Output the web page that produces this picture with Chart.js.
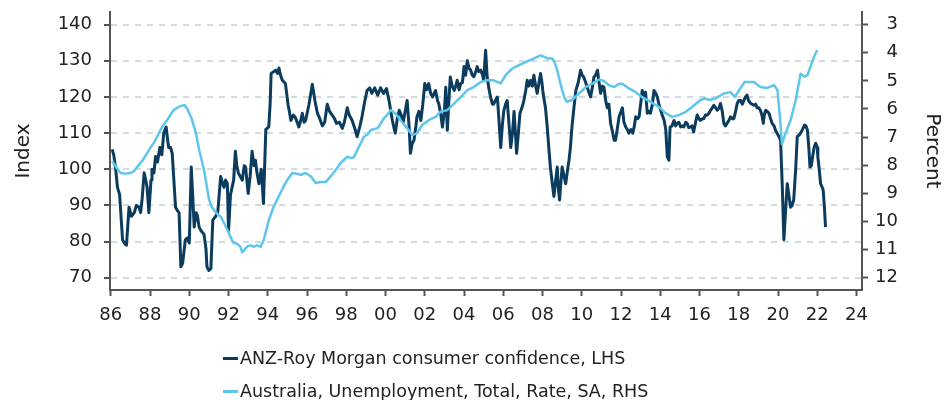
<!DOCTYPE html>
<html>
<head>
<meta charset="utf-8">
<script src="https://cdn.jsdelivr.net/npm/chart.js@4/dist/chart.umd.min.js"></script>
<style>
html,body{margin:0;padding:0;background:#fff;}
#wrap{position:relative;width:944px;height:400px;overflow:hidden;background:#fff;}
#c{position:absolute;left:0;top:0;}
.lg{position:absolute;left:240px;font-family:'DejaVu Sans';font-size:17.5px;color:#222;line-height:20px;white-space:nowrap;}
.mk{position:absolute;left:223px;width:15px;height:3px;}
</style>
</head>
<body>
<div id="wrap">
<canvas id="c" width="944" height="400"></canvas>
<div class="mk" style="top:357px;background:#0b3c5d;"></div>
<div class="lg" id="lg1" style="top:348px;"></div>
<div class="mk" style="top:390px;background:#5ec6ea;"></div>
<div class="lg" id="lg2" style="top:381px;"></div>
</div>
<script>
// ---- Series labels ----
const seriesNames = ['ANZ-Roy Morgan consumer confidence, LHS', 'Australia, Unemployment, Total, Rate, SA, RHS'];
const axisTitles = ['Index', 'Percent'];

// ---- X axis ticks ----
const xTickYears = [1986,1988,1990,1992,1994,1996,1998,2000,2002,2004,2006,2008,2010,2012,2014,2016,2018,2020,2022,2024];
const xTickLabels = ['86','88','90','92','94','96','98','00','02','04','06','08','10','12','14','16','18','20','22','24'];
const leftTicks = [70,80,90,100,110,120,130,140];
const rightTicks = [3,4,5,6,7,8,9,10,11,12];

// ---- ANZ-Roy Morgan consumer confidence (index, LHS) ----
const confDates = [
1986.07,1986.15,1986.25,1986.34,1986.45,1986.6,1986.7,1986.8,1986.93,
1987.05,1987.2,1987.3,1987.44,1987.52,1987.6,1987.7,1987.78,1987.85,1987.94,
1988.05,1988.1,1988.2,1988.28,1988.38,1988.5,1988.6,1988.7,1988.82,1988.9,1988.95,
1989.05,1989.13,1989.3,1989.4,1989.48,1989.57,1989.66,1989.8,1989.9,
1990.0,1990.1,1990.18,1990.25,1990.35,1990.42,1990.5,1990.6,1990.75,1990.85,1990.9,
1991.0,1991.1,1991.2,1991.35,1991.45,1991.6,1991.7,1991.77,1991.85,1991.94,
1992.0,1992.1,1992.26,1992.35,1992.42,1992.5,1992.6,1992.7,1992.8,1992.87,
1993.0,1993.1,1993.2,1993.3,1993.37,1993.45,1993.55,1993.67,1993.78,1993.9,
1994.05,1994.12,1994.17,1994.3,1994.4,1994.5,1994.57,1994.65,1994.74,1994.9,
1995.03,1995.1,1995.18,1995.3,1995.4,1995.5,1995.58,1995.68,1995.76,1995.85,1995.93,
1996.1,1996.27,1996.4,1996.53,1996.65,1996.78,1996.9,
1997.03,1997.15,1997.28,1997.4,1997.5,1997.65,1997.8,1997.9,
1998.05,1998.15,1998.3,1998.45,1998.55,1998.7,1998.8,1998.95,
1999.06,1999.2,1999.3,1999.45,1999.6,1999.75,1999.9,
2000.05,2000.18,2000.3,2000.35,2000.45,2000.5,2000.6,2000.7,2000.8,2000.9,
2001.0,2001.1,2001.2,2001.27,2001.35,2001.45,2001.55,2001.6,2001.7,2001.8,2001.9,
2002.0,2002.1,2002.2,2002.3,2002.4,2002.55,2002.65,2002.72,2002.82,2002.9,
2003.0,2003.07,2003.15,2003.22,2003.3,2003.4,2003.5,2003.58,2003.65,2003.75,2003.83,2003.92,
2004.0,2004.08,2004.17,2004.25,2004.34,2004.42,2004.5,2004.6,2004.67,2004.75,2004.85,2004.95,
2005.0,2005.1,2005.18,2005.28,2005.35,2005.45,2005.5,2005.6,2005.7,2005.8,2005.87,2005.95,
2006.03,2006.12,2006.2,2006.3,2006.38,2006.47,2006.55,2006.62,2006.68,2006.77,2006.85,2006.95,
2007.05,2007.15,2007.22,2007.3,2007.4,2007.48,2007.56,2007.65,2007.73,2007.82,2007.9,2007.97,
2008.03,2008.15,2008.24,2008.32,2008.4,2008.5,2008.58,2008.65,2008.75,2008.8,2008.87,2008.93,
2009.0,2009.1,2009.18,2009.28,2009.35,2009.42,2009.5,2009.6,2009.7,2009.82,2009.94,
2010.02,2010.1,2010.2,2010.28,2010.38,2010.45,2010.55,2010.62,2010.7,2010.8,2010.88,2010.96,
2011.05,2011.13,2011.22,2011.3,2011.38,2011.47,2011.55,2011.65,2011.72,2011.8,2011.9,
2012.0,2012.07,2012.15,2012.24,2012.32,2012.4,2012.5,2012.6,2012.68,2012.75,2012.85,2012.92,
2013.0,2013.08,2013.17,2013.25,2013.34,2013.42,2013.5,2013.6,2013.68,2013.77,2013.85,2013.93,
2014.02,2014.1,2014.2,2014.28,2014.36,2014.44,2014.5,2014.6,2014.7,2014.78,2014.87,2014.95,
2015.04,2015.12,2015.2,2015.3,2015.37,2015.45,2015.55,2015.62,2015.7,2015.8,2015.88,2015.97,
2016.05,2016.14,2016.22,2016.3,2016.4,2016.48,2016.56,2016.65,2016.73,2016.82,2016.9,
2017.0,2017.07,2017.16,2017.24,2017.32,2017.4,2017.5,2017.58,2017.67,2017.75,2017.84,2017.92,
2018.0,2018.1,2018.18,2018.26,2018.34,2018.42,2018.5,2018.6,2018.68,2018.77,2018.86,2018.94,
2019.02,2019.1,2019.18,2019.25,2019.3,2019.37,2019.45,2019.54,2019.62,2019.7,2019.8,2019.87,2019.95,
2020.05,2020.13,2020.22,2020.3,2020.38,2020.47,2020.55,2020.64,2020.72,2020.8,2020.9,2020.98,
2021.08,2021.15,2021.25,2021.35,2021.42,2021.5,2021.57,2021.63,2021.7,2021.76,2021.84,2021.92,
2022.0,2022.03,2022.1,2022.17,2022.25,2022.3,2022.36,2022.42
];
const confValues = [
105.5,104,100,95,93,80.5,79.5,79,89.5,
87,88,90,89.5,88,92,99,97,95,88,
97,100,99,103.5,102,106,104,110,111.7,108,106,
106,104.4,89.5,88.5,88,73,74,80.5,81,
79.6,100.6,92,84,88,87,84,83,82,78,73,
72,72.5,86,87,88,98,96,95,97,96,
83,93,97,105,101,99,98,97,101,100.6,
93.3,98,105,101,102.5,99,96,100,90.5,111,
111.7,118,126.5,127,127.4,126.5,128,126,124.6,123.7,
118,116,113.5,115,114.4,113,111.7,113.5,115.5,113,113.5,
118,123.5,119,115.5,114,112,113,
118,116,115,114,112.7,113,111.3,113,
117,115,113.5,111,109,112,114.5,119,
121.8,122.5,121,122.5,120.5,122.5,121,
122.3,119,115,113.5,111,110,114,116.3,115,113,
116,119,112,104.4,107,108,112,114.5,116,113.5,118,
123.7,122,123.7,121,120,121.8,119,118,115,111.7,
116,122.7,110.8,118,125.5,123,121.8,123,124.6,122,123.7,124,
128.4,126,130,128,127.4,126,125.6,127,128.4,127,127.4,126,
124.6,132.9,125.5,122,120,118,118,119,120,112,106,112,
116.3,118,119,112,106,110,116,110,104.4,110,115.5,117,
119,122,124.6,123,124.6,123,126,123,121,124,126.5,124,
121,117,111.7,106,100.6,96,92.5,96,100.6,95,91.5,96,
100.6,98,96,100,102.5,106,111.7,117,121.8,124,127.4,
126,125.5,124,122.7,121,120,123,125.5,126,127.4,124,121,
123,122.7,119,117,118,112.7,110.8,108,108,110.8,114.5,
116,117,113,111.7,111,110,111,110,112,114.5,114,114.5,
118,121.8,120,121.3,115.5,116,115.5,118,121.8,121,120,118,
116.3,115,113.5,111,103.4,102.5,111.7,112,113.5,112,112.7,113,
111.7,112,111.7,113,112.7,111.5,111.7,112,110.3,113,115,114,
113.5,114,114,115,115,115.5,116.3,117,117.7,117,116.3,
117,118.2,116,112.7,112,112.7,113.5,114.5,114,114,116,118.2,
119,119,118,119,120,120.5,119,118.2,118,117.7,118,117,
117,116.3,115,112.7,115,116.3,116,115.5,114,112.7,112,110.8,110,
109,108,95,80.5,88,96,93,89.5,90,91.5,100,109,
109.5,110,111,112.2,112,110.8,106,100.6,101,103.4,106,107.2,
106,103.4,100,96,95,94.3,90,84
];

// ---- Australia unemployment rate (%, RHS, inverted) ----
const unempDates = [
1986.07,1986.3,1986.5,1986.75,
1987.0,1987.2,1987.36,1987.6,1987.85,
1988.0,1988.2,1988.35,1988.53,1988.7,1988.87,
1989.05,1989.2,1989.4,1989.55,1989.75,1989.9,
1990.0,1990.12,1990.25,1990.38,1990.5,1990.62,1990.75,1990.88,
1991.0,1991.12,1991.26,1991.45,1991.6,1991.77,1991.94,
1992.1,1992.26,1992.45,1992.6,1992.7,1992.82,1992.95,
1993.1,1993.3,1993.45,1993.64,1993.8,
1994.06,1994.3,1994.5,1994.65,1994.85,
1995.0,1995.25,1995.45,1995.68,1995.93,
1996.2,1996.44,1996.7,1996.95,
1997.2,1997.46,1997.7,
1998.05,1998.25,1998.4,1998.65,1998.9,
1999.1,1999.25,1999.6,1999.92,
2000.1,2000.26,2000.5,2000.77,
2001.1,2001.36,2001.6,2001.87,
2002.2,2002.55,2002.8,
2003.15,2003.5,2003.83,
2004.17,2004.5,2004.85,
2005.18,2005.5,2005.87,
2006.12,2006.46,2006.8,
2007.14,2007.56,2007.9,
2008.1,2008.24,2008.5,2008.62,2008.75,2008.88,
2009.0,2009.12,2009.25,2009.5,2009.86,
2010.2,2010.54,2010.88,
2011.13,2011.38,2011.65,2011.9,
2012.07,2012.4,2012.75,
2013.08,2013.5,2013.93,
2014.27,2014.6,2014.95,
2015.3,2015.62,
2016.05,2016.28,2016.47,2016.8,
2017.24,2017.58,2017.8,
2018.05,2018.3,2018.77,
2019.1,2019.45,2019.8,2019.97,
2020.1,2020.2,2020.38,2020.64,2020.9,
2021.15,2021.35,2021.5,2021.65,2021.83,
2022.0
];
const unempValues = [
7.85,8.1,8.28,8.3,
8.28,8.2,8.05,7.85,7.57,
7.4,7.2,7.0,6.75,6.55,6.4,
6.2,6.04,5.95,5.9,5.86,6.0,
6.15,6.35,6.64,7.0,7.45,7.8,8.17,8.7,
9.2,9.45,9.6,9.75,9.83,10.05,10.3,
10.55,10.77,10.8,10.9,11.1,11.0,10.9,
10.85,10.9,10.85,10.9,10.65,
9.94,9.47,9.2,8.98,8.7,
8.52,8.28,8.3,8.34,8.28,
8.4,8.63,8.6,8.6,
8.4,8.17,7.93,
7.7,7.75,7.7,7.34,6.99,
6.9,6.75,6.68,6.33,
6.2,6.04,6.15,6.4,
6.68,6.93,6.87,6.57,
6.4,6.28,6.1,
6.04,5.8,5.58,
5.33,5.22,5.04,
4.98,4.98,5.09,
4.8,4.56,4.44,
4.33,4.2,4.09,
4.15,4.2,4.2,4.35,4.62,5.0,
5.33,5.6,5.75,5.68,5.45,
5.22,5.1,4.95,
5.0,5.15,5.22,5.1,
5.1,5.27,5.4,
5.58,5.75,5.93,
6.15,6.28,6.22,
6.1,5.93,
5.68,5.62,5.68,5.63,
5.45,5.4,5.57,
5.3,5.04,5.04,
5.22,5.25,5.15,5.33,
6.3,7.25,6.87,6.4,5.7,
4.75,4.85,4.8,4.5,4.15,
3.9
];

const DARK = '#0b3c5d';
const LIGHT = '#5ec6ea';
const AXIS = '#555555';
const GRID = '#d3dadf';
const TXT = '#222222';
const FONT = 'DejaVu Sans';

document.getElementById('lg1').textContent = seriesNames[0];
document.getElementById('lg2').textContent = seriesNames[1];

const confPoints = confDates.map((d, i) => ({x: d, y: confValues[i]}));
const unempPoints = unempDates.map((d, i) => ({x: d, y: unempValues[i]}));

new Chart(document.getElementById('c').getContext('2d'), {
  type: 'line',
  data: {
    datasets: [
      {label: seriesNames[0], data: confPoints, yAxisID: 'yL', borderColor: DARK, backgroundColor: DARK,
       borderWidth: 3, pointRadius: 0, tension: 0, fill: false, order: 1, borderJoinStyle: 'round'},
      {label: seriesNames[1], data: unempPoints, yAxisID: 'yR', borderColor: LIGHT, backgroundColor: LIGHT,
       borderWidth: 2.5, pointRadius: 0, tension: 0, fill: false, order: 0, borderJoinStyle: 'round'}
    ]
  },
  options: {
    responsive: false,
    animation: false,
    layout: {padding: {left: 0, right: 46, top: 12, bottom: 0}},
    plugins: {legend: {display: false}, tooltip: {enabled: false}},
    scales: {
      x: {
        type: 'linear', position: 'bottom', min: 1985.96, max: 2024.28,
        afterBuildTicks: s => { s.ticks = xTickYears.map(v => ({value: v})); },
        afterFit: s => { s.height = 110; },
        ticks: {
          autoSkip: false, maxRotation: 0, padding: 9, color: TXT,
          font: {family: FONT, size: 18},
          callback: v => { const k = xTickYears.indexOf(v); return k >= 0 ? xTickLabels[k] : ''; }
        },
        grid: {drawOnChartArea: false, drawTicks: true, tickLength: 6, tickColor: AXIS, tickWidth: 2},
        border: {display: true, color: AXIS, width: 2}
      },
      yL: {
        type: 'linear', position: 'left', min: 66.6, max: 143.5,
        afterBuildTicks: s => { s.ticks = leftTicks.map(v => ({value: v})); },
        afterFit: s => { s.width = 110; s.paddingTop = 0; s.paddingBottom = 0; },
        ticks: {padding: 12, color: TXT, font: {family: FONT, size: 18}},
        grid: {drawOnChartArea: true, color: GRID, lineWidth: 2, drawTicks: true, tickLength: 6, tickColor: AXIS, tickWidth: 2},
        border: {display: true, color: AXIS, width: 2, dash: [6, 6]},
        title: {display: true, text: axisTitles[0], color: TXT, font: {family: FONT, size: 20}, padding: {top: 11.5, bottom: 0}}
      },
      yR: {
        type: 'linear', position: 'right', reverse: true, min: 2.55, max: 12.44,
        afterBuildTicks: s => { s.ticks = rightTicks.map(v => ({value: v})); },
        afterFit: s => { s.width = 36; s.paddingTop = 0; s.paddingBottom = 0; },
        ticks: {padding: 7, crossAlign: 'far', color: TXT, font: {family: FONT, size: 18}},
        grid: {drawOnChartArea: false, drawTicks: true, tickLength: 6, tickColor: AXIS, tickWidth: 2},
        border: {display: true, color: AXIS, width: 2},
        title: {display: true, text: axisTitles[1], color: TXT, font: {family: FONT, size: 20}, padding: {top: -46, bottom: 0}}
      }
    }
  }
});
</script>
</body>
</html>
